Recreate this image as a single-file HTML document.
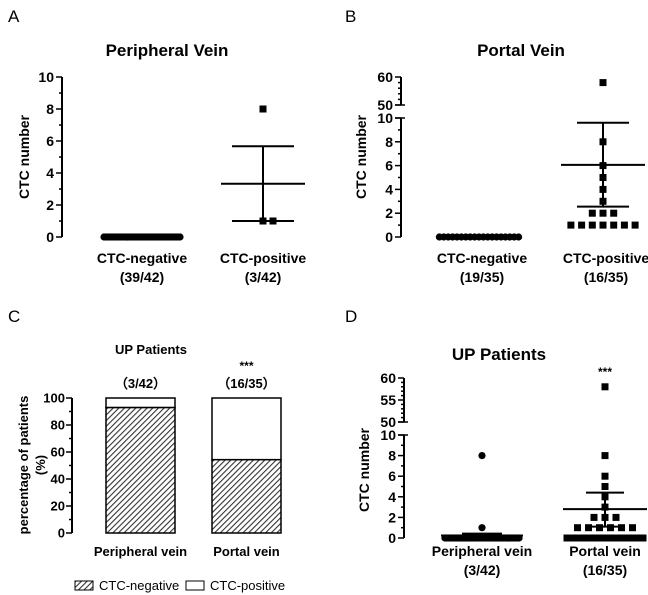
<!DOCTYPE html>
<html><head><meta charset="utf-8">
<style>
html,body{margin:0;padding:0;background:#fff;}
svg{display:block;font-family:"Liberation Sans",Arial,sans-serif;}
.t{font-weight:bold;font-size:14px;}
.tc{font-weight:bold;font-size:13px;}
.tk{font-weight:bold;font-size:14px;}
.tkc{font-weight:bold;font-size:13px;}
.st{font-weight:bold;font-size:12px;}
.ttl{font-weight:bold;font-size:17px;}
.pl{font-size:17px;}
</style></head>
<body>
<svg id="fig" width="648" height="595" viewBox="0 0 648 595">
<g id="layer"></g>
</svg>
<script>
// ---------- Data ----------
const aCategories = ["CTC-negative", "CTC-positive"];
const aCounts = ["(39/42)", "(3/42)"];
const aNegValues = [0,0,0,0,0,0,0,0,0,0,0,0,0,0,0,0,0,0,0,0,0,0,0,0,0,0,0,0,0,0,0,0,0,0,0,0,0,0,0];
const aPosValues = [8, 1, 1];
const aPosMean = 3.33;
const aPosErr = [1, 5.67];
const aTicks = [0, 2, 4, 6, 8, 10];

const bCategories = ["CTC-negative", "CTC-positive"];
const bCounts = ["(19/35)", "(16/35)"];
const bNegValues = [0,0,0,0,0,0,0,0,0,0,0,0,0,0,0,0,0,0,0];
const bPosValues = [58, 8, 6, 5, 4, 3, 2, 2, 2, 1, 1, 1, 1, 1, 1, 1];
const bPosMean = 6.06;
const bPosErr = [2.55, 9.6];
const bTicksLow = [0, 2, 4, 6, 8, 10];
const bTicksHigh = [50, 60];

const cCategories = ["Peripheral vein", "Portal vein"];
const cCounts = ["(3/42)", "(16/35)"];
const cNegPct = [92.9, 54.3];
const cTicks = [0, 20, 40, 60, 80, 100];

const dCategories = ["Peripheral vein", "Portal vein"];
const dCounts = ["(3/42)", "(16/35)"];
const dPeriValues = [8, 1].concat(new Array(40).fill(0));
const dPortalValues = [58, 8, 6, 5, 4, 3, 2, 2, 2, 1, 1, 1, 1, 1, 1].concat(new Array(20).fill(0));
const dPeriMean = 0.24, dPeriErr = [0.05, 0.43];
const dPortalMean = 2.8, dPortalErr = [1.1, 4.4];
const dTicksLow = [0, 2, 4, 6, 8, 10];
const dTicksHigh = [50, 55, 60];

// ---------- helpers ----------
const NS = "http://www.w3.org/2000/svg";
const layer = document.getElementById("layer");
function mk(tag, attrs, parent) {
  const e = document.createElementNS(NS, tag);
  for (const k in attrs) e.setAttribute(k, attrs[k]);
  (parent || layer).appendChild(e);
  return e;
}
function txt(x, y, s, cls, anchor, name, parent) {
  const e = mk("text", {x: x, y: y, class: cls, "text-anchor": anchor || "middle"}, parent);
  e.textContent = s;
  
  
  return e;
}
function line(x1, y1, x2, y2, w, name, parent) {
  const e = mk("line", {x1: x1, y1: y1, x2: x2, y2: y2, stroke: "#000", "stroke-width": w || 2}, parent);
  
  
  return e;
}
function marker(x, y, shape, name, parent) {
  let e;
  if (shape === "sq") e = mk("rect", {x: x - 3.5, y: y - 3.5, width: 7, height: 7, fill: "#000"}, parent);
  else e = mk("circle", {cx: x, cy: y, r: 3.6, fill: "#000"}, parent);
  
  
  return e;
}
function spread(values, cx, step, maxW) {
  const groups = {};
  values.forEach(v => { groups[v] = (groups[v] || 0) + 1; });
  const out = [];
  Object.keys(groups).forEach(k => {
    const n = groups[k];
    let s = step;
    if ((n - 1) * s > maxW) s = maxW / (n - 1);
    for (let i = 0; i < n; i++) out.push([+k, cx + (i - (n - 1) / 2) * s]);
  });
  return out;
}
function errBar(cx, yFn, mean, err, meanHalf, capHalf, name, g) {
  line(cx - meanHalf, yFn(mean), cx + meanHalf, yFn(mean), 2, name + "-mean", g);
  line(cx, yFn(err[0]), cx, yFn(err[1]), 2, name + "-error-bar", g);
  line(cx - capHalf, yFn(err[0]), cx + capHalf, yFn(err[0]), 2, name + "-error-cap-low", g);
  line(cx - capHalf, yFn(err[1]), cx + capHalf, yFn(err[1]), 2, name + "-error-cap-high", g);
}

// ---------- Panel A ----------
(function(){
  const g = mk("g", {});
  
  
  txt(8, 22, "A", "pl", "start", "panel-label-a", g);
  txt(167, 56, "Peripheral Vein", "ttl", "middle", "title-peripheral-vein", g);
  const ax = 62, y0 = 237, y10 = 77;
  const y = v => y0 + (y10 - y0) * v / 10;
  line(ax, y(10), ax, y(0), 2, "y-axis", g);
  for (let v = 0; v <= 10; v++) line(ax - (v % 2 === 0 ? 6 : 3), y(v), ax, y(v), 1.5, "y-tick", g);
  aTicks.forEach(v => txt(ax - 8, y(v) + 5, String(v), "tk", "end", "y-tick-label", g));
  const yl = txt(0, 0, "CTC number", "t", "middle", "y-axis-title", g);
  yl.setAttribute("transform", "translate(29,157) rotate(-90)");
  const cx = [142, 263];
  spread(aNegValues, cx[0], 2, 76).forEach(p => marker(p[1], y(p[0]), "ci", "point-negative", g));
  errBar(cx[1], y, aPosMean, aPosErr, 42, 31, "positive", g);
  const pos = [[8, 263], [1, 263], [1, 273]];
  aPosValues.forEach((v, i) => marker(pos[i] ? pos[i][1] : cx[1], y(v), "sq", "point-positive", g));
  aCategories.forEach((c, i) => {
    txt(cx[i], 263, c, "t", "middle", "x-label", g);
    txt(cx[i], 282, aCounts[i], "t", "middle", "x-count", g);
  });
})();

// ---------- Panel B ----------
(function(){
  const g = mk("g", {});
  
  
  txt(345, 22, "B", "pl", "start", "panel-label-b", g);
  txt(521, 56, "Portal Vein", "ttl", "middle", "title-portal-vein", g);
  const ax = 401;
  const y = v => v <= 10 ? 237 + (118 - 237) * v / 10 : 105 + (77 - 105) * (v - 50) / 10;
  line(ax, y(10), ax, y(0), 2, "y-axis-lower", g);
  line(ax, y(60), ax, y(50), 2, "y-axis-upper", g);
  for (let v = 0; v <= 10; v++) line(ax - (v % 2 === 0 ? 6 : 3), y(v), ax, y(v), 1.5, "y-tick", g);
  for (let v = 50; v <= 60; v += 2) line(ax - (v % 10 === 0 ? 6 : 3), y(v), ax, y(v), 1.5, "y-tick", g);
  line(ax - 6, y(50), ax + 4, y(50), 1.5, "axis-break", g);
  line(ax - 6, y(10), ax + 4, y(10), 1.5, "axis-break", g);
  bTicksLow.concat(bTicksHigh).forEach(v => txt(ax - 8, y(v) + 5, String(v), "tk", "end", "y-tick-label", g));
  const yl = txt(0, 0, "CTC number", "t", "middle", "y-axis-title", g);
  yl.setAttribute("transform", "translate(366,157) rotate(-90)");
  const cx = [479, 603];
  spread(bNegValues, cx[0], 4.4, 80).forEach(p => marker(p[1], y(p[0]), "ci", "point-negative", g));
  errBar(cx[1], y, bPosMean, bPosErr, 42, 26, "positive", g);
  spread(bPosValues, cx[1], 10.7, 70).forEach(p => marker(p[1], y(p[0]), "sq", "point-positive", g));
  bCategories.forEach((c, i) => {
    txt(cx[i] + 3, 263, c, "t", "middle", "x-label", g);
    txt(cx[i] + 3, 282, bCounts[i], "t", "middle", "x-count", g);
  });
})();

// ---------- Panel C ----------
(function(){
  const g = mk("g", {});
  
  
  const defs = mk("defs", {}, g);
  const pat = mk("pattern", {id: "hatch", width: 4, height: 4, patternUnits: "userSpaceOnUse", patternTransform: "rotate(45)"}, defs);
  mk("rect", {width: 4, height: 4, fill: "#fff"}, pat);
  mk("line", {x1: 0, y1: 0, x2: 0, y2: 4, stroke: "#333", "stroke-width": 2.2}, pat);
  txt(8, 322, "C", "pl", "start", "panel-label-c", g);
  txt(151, 354, "UP Patients", "tc", "middle", "title-up-patients-c", g);
  const ax = 72, y0 = 533, y100 = 398;
  const y = v => y0 + (y100 - y0) * v / 100;
  line(ax, y(100), ax, y(0), 2, "y-axis", g);
  for (let v = 0; v <= 100; v += 10) line(ax - (v % 20 === 0 ? 6 : 3), y(v), ax, y(v), 1.5, "y-tick", g);
  cTicks.forEach(v => txt(ax - 7, y(v) + 4.5, String(v), "tkc", "end", "y-tick-label", g));
  const yl1 = txt(0, 0, "percentage of patients", "tc", "middle", "y-axis-title", g);
  yl1.setAttribute("transform", "translate(28,465) rotate(-90)");
  const yl2 = txt(0, 0, "(%)", "tc", "middle", "y-axis-title-unit", g);
  yl2.setAttribute("transform", "translate(45,465) rotate(-90)");
  const bx = [106, 212], bw = 69;
  cNegPct.forEach((p, i) => {
    const r1 = mk("rect", {x: bx[i], y: y(100), width: bw, height: y(p) - y(100), fill: "#fff", stroke: "#000", "stroke-width": 1.5}, g);
    
    
    const r2 = mk("rect", {x: bx[i], y: y(p), width: bw, height: y(0) - y(p), fill: "url(#hatch)", stroke: "#000", "stroke-width": 1.5}, g);
    
    
    txt(bx[i] + bw / 2, 556, cCategories[i], "tc", "middle", "x-label", g);
    txt(bx[i] + bw / 2, 388, "（" + cCounts[i].slice(1, -1) + "）", "tc", "middle", "x-count", g);
  });
  txt(bx[1] + bw / 2, 370, "***", "st", "middle", "significance-stars", g);
  const lg1 = mk("rect", {x: 75, y: 581, width: 18, height: 9, fill: "url(#hatch)", stroke: "#000", "stroke-width": 1}, g);
  
  
  txt(99, 590, "CTC-negative", "", "start", "legend-entry-negative", g).setAttribute("font-size", "13");
  const lg2 = mk("rect", {x: 186, y: 581, width: 18, height: 9, fill: "#fff", stroke: "#000", "stroke-width": 1}, g);
  
  
  txt(210, 590, "CTC-positive", "", "start", "legend-entry-positive", g).setAttribute("font-size", "13");
})();

// ---------- Panel D ----------
(function(){
  const g = mk("g", {});
  
  
  txt(345, 322, "D", "pl", "start", "panel-label-d", g);
  txt(499, 360, "UP Patients", "ttl", "middle", "title-up-patients-d", g);
  const ax = 404;
  const y = v => v <= 10 ? 538 + (435 - 538) * v / 10 : 422 + (378 - 422) * (v - 50) / 10;
  line(ax, y(10), ax, y(0), 2, "y-axis-lower", g);
  line(ax, y(60), ax, y(50), 2, "y-axis-upper", g);
  for (let v = 0; v <= 10; v++) line(ax - (v % 2 === 0 ? 6 : 3), y(v), ax, y(v), 1.5, "y-tick", g);
  for (let v = 50; v <= 60; v++) line(ax - (v % 5 === 0 ? 6 : 3), y(v), ax, y(v), 1.5, "y-tick", g);
  line(ax - 6, y(50), ax + 4, y(50), 1.5, "axis-break", g);
  line(ax - 6, y(10), ax + 4, y(10), 1.5, "axis-break", g);
  dTicksLow.concat(dTicksHigh).forEach(v => txt(ax - 8, y(v) + 5, String(v), "tk", "end", "y-tick-label", g));
  const yl = txt(0, 0, "CTC number", "t", "middle", "y-axis-title", g);
  yl.setAttribute("transform", "translate(369,470) rotate(-90)");
  const cx = [482, 605];
  spread(dPeriValues, cx[0], 1.9, 76).forEach(p => marker(p[1], y(p[0]), "ci", "point-peripheral", g));
  errBar(cx[0], y, dPeriMean, dPeriErr, 41, 20, "peripheral", g);
  const pts = spread(dPortalValues, cx[1], 11, 76);
  pts.forEach(p => marker(p[1], y(p[0]), "sq", "point-portal", g));
  errBar(cx[1], y, dPortalMean, dPortalErr, 42, 19, "portal", g);
  txt(cx[1], 376, "***", "st", "middle", "significance-stars", g);
  dCategories.forEach((c, i) => {
    txt(cx[i], 556, c, "t", "middle", "x-label", g);
    txt(cx[i], 575, dCounts[i], "t", "middle", "x-count", g);
  });
})();
</script>
</body></html>
